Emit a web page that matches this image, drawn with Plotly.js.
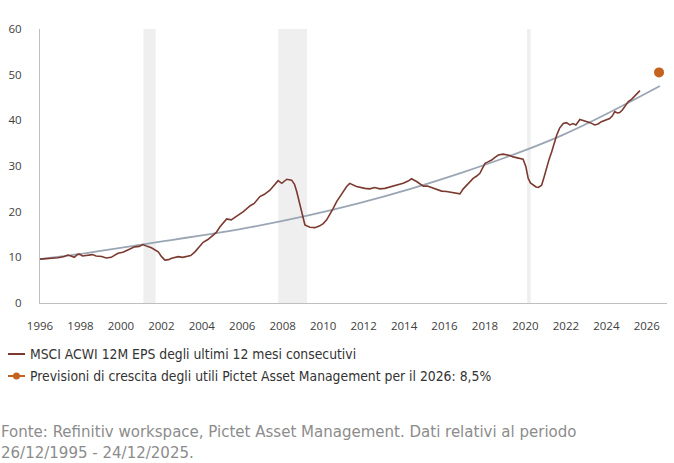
<!DOCTYPE html>
<html>
<head>
<meta charset="utf-8">
<script src="https://cdn.plot.ly/plotly-3.0.1.min.js"></script>
<style>html,body{margin:0;padding:0;background:#fff;}#chart{width:674px;height:463px;}</style>
</head>
<body>
<div id="chart"></div>
<script>
// MSCI ACWI 12M trailing EPS
const epsDates = ['1996-01-01','1996-06-01','1996-11-20','1997-03-15','1997-05-15','1997-07-15','1997-09-10','1997-11-05','1997-12-15','1998-02-05','1998-05-15','1998-08-05','1998-10-10','1999-01-20','1999-04-10','1999-07-10','1999-11-10','2000-02-05','2000-05-05','2000-09-05','2000-11-25','2001-02-01','2001-04-20','2001-07-05','2001-11-05','2002-01-01','2002-03-05','2002-05-10','2002-07-05','2002-11-01','2003-01-20','2003-04-01','2003-06-15','2003-08-30','2003-11-05','2004-01-25','2004-04-20','2004-06-30','2004-09-15','2004-11-25','2005-03-25','2005-06-15','2005-08-20','2005-11-05','2006-01-20','2006-05-25','2006-08-05','2006-11-15','2007-02-05','2007-05-15','2007-08-05','2007-10-10','2007-12-15','2008-03-15','2008-06-10','2008-08-01','2008-09-10','2008-11-05','2008-12-25','2009-02-05','2009-05-05','2009-08-05','2009-11-01','2010-01-01','2010-03-05','2010-05-01','2010-07-01','2010-09-01','2010-11-01','2011-01-01','2011-03-01','2011-04-25','2011-07-01','2011-08-25','2012-01-25','2012-04-20','2012-07-20','2012-10-20','2013-01-20','2013-04-20','2013-07-20','2013-10-01','2013-12-15','2014-03-15','2014-05-15','2014-08-15','2014-12-15','2015-02-25','2015-05-10','2015-08-05','2015-11-10','2016-02-05','2016-05-10','2016-08-05','2016-10-05','2016-12-05','2017-02-01','2017-04-01','2017-06-01','2017-08-05','2017-10-01','2017-11-15','2018-01-01','2018-02-25','2018-05-01','2018-07-01','2018-08-30','2018-11-25','2019-01-20','2019-03-25','2019-05-25','2019-07-25','2019-10-01','2019-11-20','2020-01-08','2020-02-20','2020-04-01','2020-05-20','2020-07-10','2020-08-20','2020-10-20','2020-12-01','2021-01-20','2021-03-05','2021-04-20','2021-06-01','2021-07-20','2021-09-10','2021-11-15','2022-01-10','2022-03-15','2022-05-10','2022-07-01','2022-09-10','2022-11-05','2023-01-08','2023-03-15','2023-06-05','2023-08-05','2023-10-05','2023-12-15','2024-03-01','2024-04-20','2024-06-01','2024-07-20','2024-08-30','2024-10-20','2024-12-01','2025-02-01','2025-04-01','2025-06-01','2025-07-20','2025-08-30'];
const epsValues = [9.6,9.7,9.9,10.2,10.5,10.3,10.0,10.6,10.7,10.3,10.5,10.6,10.3,10.2,9.85,10.0,10.9,11.1,11.6,12.3,12.4,12.8,12.4,12.1,11.2,10.2,9.4,9.5,9.8,10.15,10.0,10.15,10.4,11.2,12.1,13.3,13.9,14.7,15.4,16.7,18.4,18.2,18.7,19.3,20.0,21.3,21.8,23.3,23.8,24.7,25.8,26.8,26.2,27.1,26.9,26.0,24.4,21.5,19.0,17.1,16.6,16.5,16.9,17.4,18.2,19.3,20.7,22.2,23.3,24.5,25.5,26.2,25.8,25.5,25.1,25.0,25.3,25.0,25.1,25.4,25.7,25.8,26.2,26.7,27.2,26.6,25.6,25.6,25.3,25.0,24.5,24.4,24.2,24.1,23.9,25.0,25.8,26.6,27.3,27.8,28.4,29.5,30.6,30.9,31.3,31.9,32.4,32.6,32.5,32.3,32.0,31.8,31.7,31.5,29.9,27.3,26.3,25.8,25.4,25.3,25.8,27.5,29.8,31.5,33.1,35.0,36.8,38.3,39.3,39.5,39.0,39.3,39.0,40.2,40.0,39.9,39.5,39.0,39.2,39.7,40.0,40.4,41.0,41.9,41.6,41.7,42.3,43.0,44.1,44.6,45.3,45.9,46.5];

// Long-term trend curve
const trendDates = ['1996-01-01','1998-05-15','2001-02-05','2006-07-01','2011-09-10','2016-11-25','2021-10-20','2026-08-25'];
const trendValues = [9.6,11.0,12.85,16.65,21.75,28.6,36.7,47.5];

// Pictet AM 2026 forecast
const forecastDates = ['2026-08-10'];
const forecastValues = [50.5];

// Shaded periods (recessions)
const bandStarts = ['2001-02-10','2007-10-12','2020-02-01'];
const bandEnds = ['2001-09-20','2009-03-15','2020-04-05'];

// Axis ticks
const xTickVals = ['1996-01-01','1998-01-01','2000-01-01','2002-01-01','2004-01-01','2006-01-01','2008-01-01','2010-01-01','2012-01-01','2014-01-01','2016-01-01','2018-01-01','2020-01-01','2022-01-01','2024-01-01','2026-01-01'];
const xTickText = ['1996','1998','2000','2002','2004','2006','2008','2010','2012','2014','2016','2018','2020','2022','2024','2026'];
const yTickVals = [0,10,20,30,40,50,60];

const legendLabels = ['MSCI ACWI 12M EPS degli ultimi 12 mesi consecutivi','Previsioni di crescita degli utili Pictet Asset Management per il 2026: 8,5%'];
const sourceLines = ['Fonte: Refinitiv workspace, Pictet Asset Management. Dati relativi al periodo','26/12/1995 - 24/12/2025.'];

const brown = '#7b3a30', grey = '#9ba6b5', orange = '#c4621e';
const W = 674, H = 463, L = 40, R = 7, T = 29, B = 160;
const pw = W - L - R, ph = H - T - B;
const px = v => (v - L) / pw;      // pixel -> paper x
const py = v => (H - B - v) / ph;  // pixel -> paper y
const condFont = '"Liberation Sans Narrow", "DejaVu Sans Condensed", "Roboto Condensed", Roboto, sans-serif';

const traces = [
  {x: trendDates, y: trendValues, type: 'scatter', mode: 'lines', line: {color: grey, width: 1.8, shape: 'spline', smoothing: 1}, hoverinfo: 'skip', showlegend: false},
  {x: epsDates, y: epsValues, type: 'scatter', mode: 'lines', name: legendLabels[0], line: {color: brown, width: 1.6}, showlegend: false},
  {x: forecastDates, y: forecastValues, type: 'scatter', mode: 'markers', name: legendLabels[1], marker: {color: orange, size: 10}, showlegend: false}
];

const shapes = bandStarts.map((s, i) => ({type: 'rect', xref: 'x', yref: 'paper', x0: s, x1: bandEnds[i], y0: 0, y1: 1, fillcolor: '#efefef', line: {width: 0}, layer: 'below'}));
// legend symbols
shapes.push({type: 'line', xref: 'paper', yref: 'paper', x0: px(8), x1: px(25), y0: py(354), y1: py(354), line: {color: brown, width: 2}});
shapes.push({type: 'line', xref: 'paper', yref: 'paper', x0: px(8), x1: px(25), y0: py(376), y1: py(376), line: {color: orange, width: 2}});
shapes.push({type: 'circle', xref: 'paper', yref: 'paper', x0: px(13), x1: px(20), y0: py(379.5), y1: py(372.5), fillcolor: orange, line: {color: orange, width: 0}});

const annotations = [
  {xref: 'paper', yref: 'paper', x: px(28), y: py(354), xanchor: 'left', yanchor: 'middle', text: legendLabels[0], showarrow: false, font: {family: condFont, size: 13.8, color: '#333333'}},
  {xref: 'paper', yref: 'paper', x: px(28), y: py(376), xanchor: 'left', yanchor: 'middle', text: legendLabels[1], showarrow: false, font: {family: condFont, size: 13.8, color: '#333333'}},
  {xref: 'paper', yref: 'paper', x: px(-1), y: py(431), xanchor: 'left', yanchor: 'middle', text: sourceLines[0], showarrow: false, font: {family: condFont, size: 16.7, color: '#8c8c8c'}},
  {xref: 'paper', yref: 'paper', x: px(-1), y: py(452), xanchor: 'left', yanchor: 'middle', text: sourceLines[1], showarrow: false, font: {family: condFont, size: 16.7, color: '#8c8c8c'}}
];

const layout = {
  width: W, height: H,
  margin: {l: L, r: R, t: T, b: B, pad: 0},
  paper_bgcolor: '#ffffff', plot_bgcolor: '#ffffff',
  showlegend: false,
  xaxis: {type: 'date', range: ['1996-01-01', '2027-01-01'], tickvals: xTickVals, ticktext: xTickText, showgrid: false, zeroline: false, showline: true, linecolor: '#bfbfbf', linewidth: 1, ticks: '', ticklabelstandoff: 12, tickfont: {family: '"Open Sans", sans-serif', size: 11.5, color: '#404040'}, fixedrange: true},
  yaxis: {range: [0, 60], tickvals: yTickVals, showgrid: false, zeroline: false, showline: true, linecolor: '#bfbfbf', linewidth: 1, ticks: '', ticklabelstandoff: 15, tickfont: {family: '"Open Sans", sans-serif', size: 11.5, color: '#404040'}, fixedrange: true},
  shapes: shapes,
  annotations: annotations,
  hovermode: 'closest'
};

Plotly.newPlot('chart', traces, layout, {displayModeBar: false, staticPlot: true});
</script>
</body>
</html>
